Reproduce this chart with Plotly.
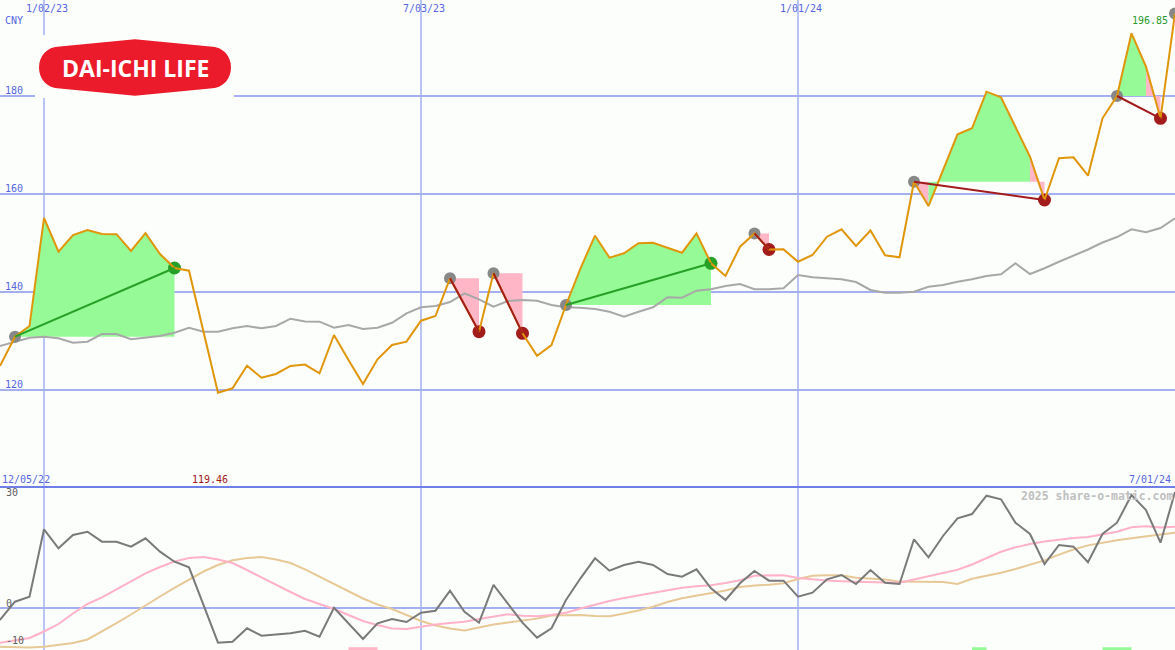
import pandas as pd
import plotly.graph_objects as go

W, H = 1175, 650

# ---------------- data ----------------
dates = pd.date_range("2022-12-05", periods=83, freq="7D")

price = [124.0, 125.10, 130.88, 133.06, 155.10, 148.22, 151.63, 152.65, 151.84, 151.80,
         148.37, 152.00, 147.76, 144.90, 144.35, 132.04, 119.46, 120.35, 124.96, 122.51,
         123.27, 124.90, 125.20, 123.41, 131.22, 126.12, 121.22, 126.27, 129.18, 129.86,
         134.14, 135.10, 142.80, 137.35, 131.90, 143.82, 137.76, 131.57, 127.00, 129.18,
         137.35, 144.84, 151.49, 147.00, 147.90, 149.94, 150.06, 149.04, 148.02, 151.98,
         145.86, 143.27, 149.24, 151.95, 148.67, 148.70, 146.18, 147.55, 151.29, 152.80,
         149.39, 152.55, 147.50, 147.08, 162.51, 157.55, 164.69, 172.18, 173.41, 180.88,
         179.73, 173.67, 167.61, 158.78, 167.29, 167.49, 163.73, 175.45, 180.00, 192.80,
         185.98, 175.45, 196.85]

ma = [128.2, 129.04, 129.86, 130.67, 130.88, 130.55, 129.65, 129.86, 131.43, 131.43,
      130.35, 130.67, 131.02, 131.69, 132.71, 131.90, 131.90, 132.59, 133.06, 132.59,
      133.06, 134.55, 133.98, 133.94, 132.71, 133.27, 132.45, 132.71, 133.73, 135.65,
      136.88, 137.14, 137.96, 139.73, 138.51, 137.00, 138.16, 138.37, 138.22, 137.35,
      136.88, 136.80, 136.53, 135.98, 134.96, 135.98, 136.88, 138.92, 138.84, 140.27,
      140.55, 141.22, 141.63, 140.55, 140.55, 140.76, 143.47, 143.00, 142.80, 142.59,
      142.04, 140.41, 139.86, 139.86, 140.06, 141.08, 141.43, 142.10, 142.59, 143.27,
      143.61, 145.86, 143.67, 144.84, 146.18, 147.35, 148.67, 150.10, 151.22, 152.80,
      152.18, 153.06, 155.04]

momentum = [-5.5, -3.14, 1.62, 2.97, 21.19, 16.05, 19.65, 20.54, 17.84, 17.84,
            16.49, 18.76, 15.14, 12.43, 10.92, 0.73, -9.46, -9.19, -5.57, -7.57,
            -7.19, -6.92, -6.22, -7.84, 0.0, -4.22, -8.46, -4.22, -3.05, -3.86,
            -1.35, -0.81, 4.59, -1.08, -4.05, 6.14, 1.19, -4.05, -8.11, -5.57,
            2.08, 7.95, 13.35, 10.0, 11.54, 12.43, 11.54, 9.11, 8.38, 10.38,
            5.24, 2.08, 6.59, 9.92, 7.30, 7.30, 2.97, 4.05, 7.68, 8.84,
            6.41, 10.19, 6.76, 6.41, 18.49, 13.62, 19.38, 24.16, 25.32, 30.27,
            29.30, 22.97, 19.92, 11.81, 16.95, 16.49, 12.27, 19.92, 22.97, 30.46,
            26.41, 17.57, 31.27]

signal_fast = [-10.1, -9.46, -9.0, -8.19, -6.43, -4.41, -1.57, 1.0, 2.81, 5.05,
               7.22, 9.30, 11.0, 12.49, 13.43, 13.70, 13.03, 12.08, 10.19, 8.16,
               6.27, 4.24, 2.35, 1.0, -0.35, -1.97, -3.59, -4.68, -5.62, -5.76,
               -5.08, -4.54, -4.14, -3.81, -3.05, -2.32, -1.78, -2.19, -2.32, -1.97,
               -1.38, -0.22, 0.86, 1.81, 2.62, 3.35, 4.11, 4.78, 5.38, 5.78,
               6.08, 6.68, 7.43, 8.65, 8.76, 8.78, 8.03, 7.62, 7.35, 7.16,
               7.0, 6.89, 6.81, 6.76, 7.62, 8.49, 9.38, 10.24, 11.68, 13.43,
               15.11, 16.32, 17.22, 17.89, 18.43, 18.84, 19.11, 19.78, 20.54, 21.76,
               22.03, 21.65, 21.89]

signal_slow = [-10.49, -10.54, -10.7, -10.76, -10.57, -10.08, -9.54, -8.59, -6.43, -4.14,
               -1.84, 0.65, 3.03, 5.38, 7.62, 9.78, 11.54, 12.84, 13.43, 13.70,
               13.03, 12.08, 10.38, 8.43, 6.51, 4.51, 2.49, 0.86, -0.35, -1.97,
               -3.59, -4.81, -5.62, -6.19, -5.32, -4.57, -4.0, -3.46, -2.95, -2.14,
               -2.0, -1.97, -2.24, -2.30, -1.57, -0.76, 0.27, 1.54, 2.54, 3.27,
               3.84, 4.65, 5.62, 6.03, 6.19, 6.59, 7.76, 8.65, 8.76, 8.76,
               8.08, 7.86, 7.62, 7.05, 7.0, 6.97, 6.95, 6.41, 7.84, 8.62,
               9.43, 10.46, 11.62, 12.78, 14.35, 15.73, 16.84, 17.62, 18.22, 18.78,
               19.35, 19.81, 20.27]

# trades: (buy index, sell index)
trades = [(2, 13), (32, 34), (35, 37), (40, 50), (53, 54), (64, 73), (78, 81)]
open_buy = [82]

# small signal bars at bottom of lower panel: (start idx, end idx, kind)
signal_bars = [(25, 27, "loss"), (68, 69, "gain"), (77, 79, "gain")]

price_ticks = [120, 140, 160, 180]
osc_ticks = [30, 0, -10]
grid_dates = ["2023-01-02", "2023-07-03", "2024-01-01"]

# ---------------- styles ----------------
BG = "#fcfefc"
GRID = "#a4b0f2"
LABEL_BLUE = "#5566e0"
ORANGE = "#e0960a"
MA_GRAY = "#a8a8a8"
GREEN_FILL = "#96fa96"
PINK_FILL = "#ffb6c6"
BUY_GRAY = "#888888"
WIN = "#26a026"
LOSS = "#a21c1c"
MONO = "DejaVu Sans Mono"

TOP_FRAC = 163 / H  # lower panel height fraction


def P(xp, yp):
    return xp / W, 1 - yp / H


fig = go.Figure()

# ---------- trade fills ----------
for b, s in trades:
    base = price[b]
    j = b
    while j < s:
        col = GREEN_FILL if price[j + 1] >= base else PINK_FILL
        k = j
        while k + 1 < s and ((price[k + 2] >= base) == (price[j + 1] >= base)):
            k += 1
        xs = [dates[j]] + list(dates[j:k + 2]) + [dates[k + 1], dates[j]]
        ys = [base] + price[j:k + 2] + [base, base]
        fig.add_trace(go.Scatter(x=xs, y=ys, mode="lines", fill="toself",
                                 fillcolor=col, line=dict(width=0, color=col),
                                 hoverinfo="skip", xaxis="x", yaxis="y"))
        j = k + 1

# ---------- moving average ----------
fig.add_trace(go.Scatter(x=dates, y=ma, mode="lines",
                         line=dict(color=MA_GRAY, width=2), xaxis="x", yaxis="y"))

# ---------- markers ----------
buy_idx = [b for b, s in trades] + open_buy
fig.add_trace(go.Scatter(x=[dates[i] for i in buy_idx], y=[price[i] for i in buy_idx],
                         mode="markers", marker=dict(color=BUY_GRAY, size=12),
                         xaxis="x", yaxis="y"))
sell_cols = [WIN if price[s] > price[b] else LOSS for b, s in trades]
fig.add_trace(go.Scatter(x=[dates[s] for b, s in trades], y=[price[s] for b, s in trades],
                         mode="markers", marker=dict(color=sell_cols, size=13),
                         xaxis="x", yaxis="y"))

# ---------- price ----------
fig.add_trace(go.Scatter(x=dates, y=price, mode="lines",
                         line=dict(color=ORANGE, width=2), xaxis="x", yaxis="y"))

# ---------- trade lines ----------
for b, s in trades:
    c = WIN if price[s] > price[b] else LOSS
    fig.add_trace(go.Scatter(x=[dates[b], dates[s]], y=[price[b], price[s]], mode="lines",
                             line=dict(color=c, width=2), xaxis="x", yaxis="y"))

# ---------- oscillator panel ----------
fig.add_trace(go.Scatter(x=dates, y=signal_slow, mode="lines",
                         line=dict(color="#e6c996", width=2), xaxis="x2", yaxis="y2"))
fig.add_trace(go.Scatter(x=dates, y=signal_fast, mode="lines",
                         line=dict(color="#ffb2c8", width=2), xaxis="x2", yaxis="y2"))
fig.add_trace(go.Scatter(x=dates, y=momentum, mode="lines",
                         line=dict(color="#7a7a7a", width=2), xaxis="x2", yaxis="y2"))

# ---------- axes ----------
x0 = dates[0] + pd.Timedelta(days=7 * 14 / 14.5)
x1 = dates[-1]
y_top = 180 + 96 / 4.9
y_bot = 180 - (H - 163 - 96) / 4.9
o_top = (607.7 - (H - 163)) / 3.7
o_bot = (607.7 - H) / 3.7

axis_common = dict(showticklabels=False, zeroline=False, showline=False, ticks="")
fig.update_layout(
    width=W, height=H, autosize=False,
    margin=dict(l=0, r=0, t=0, b=0, pad=0),
    paper_bgcolor=BG, plot_bgcolor=BG,
    showlegend=False, hovermode=False,
    xaxis=dict(domain=[0, 1], range=[x0, x1], showgrid=False, anchor="y", **axis_common),
    yaxis=dict(domain=[TOP_FRAC, 1], range=[y_bot, y_top], tickvals=price_ticks,
               showgrid=True, gridcolor=GRID, gridwidth=2, anchor="x", **axis_common),
    xaxis2=dict(domain=[0, 1], range=[x0, x1], showgrid=False, anchor="y2",
                matches="x", **axis_common),
    yaxis2=dict(domain=[0, TOP_FRAC], range=[o_bot, o_top], tickvals=[0],
                showgrid=True, gridcolor=GRID, gridwidth=2, anchor="x2", **axis_common),
)

shapes = []
for d in grid_dates:
    shapes.append(dict(type="line", xref="x", yref="paper", x0=d, x1=d, y0=0, y1=1,
                       line=dict(color=GRID, width=1.5), layer="below"))
shapes.append(dict(type="line", xref="paper", yref="paper", x0=0, x1=1,
                   y0=TOP_FRAC, y1=TOP_FRAC, line=dict(color="#6f7fe8", width=2),
                   layer="above"))
for a, b, kind in signal_bars:
    shapes.append(dict(type="rect", xref="x2", yref="y2", x0=dates[a], x1=dates[b],
                       y0=o_bot - 0.3, y1=o_bot + 0.75,
                       fillcolor=GREEN_FILL if kind == "gain" else PINK_FILL,
                       line=dict(width=0), layer="above"))

# logo
lx0, ly0 = P(35, 35)
lx1, ly1 = P(234, 98)
shapes.append(dict(type="rect", xref="paper", yref="paper", x0=lx0, x1=lx1, y0=ly1, y1=ly0,
                   fillcolor=BG, line=dict(width=0), layer="above"))


def pt(xp, yp):
    a, b = P(xp, yp)
    return f"{a:.5f},{b:.5f}"


logo_path = (f"M {pt(60,46.5)} L {pt(135,39.3)} L {pt(210,46.5)} "
             f"C {pt(238,46.5)} {pt(238,88.5)} {pt(210,88.5)} "
             f"L {pt(135,95.7)} L {pt(60,88.5)} "
             f"C {pt(32,88.5)} {pt(32,46.5)} {pt(60,46.5)} Z")
shapes.append(dict(type="path", xref="paper", yref="paper", path=logo_path,
                   fillcolor="#ec1b2b", line=dict(width=0), layer="above"))
fig.update_layout(shapes=shapes)

# ---------- text ----------
ann = []


def text(t, xp, yp, color, size=10, xanchor="left", bold=False, family=MONO):
    a, b = P(xp, yp)
    ann.append(dict(text=f"<b>{t}</b>" if bold else t, x=a, y=b, xref="paper", yref="paper",
                    xanchor=xanchor, yanchor="middle", showarrow=False,
                    font=dict(family=family, size=size, color=color), borderpad=0))


for d in grid_dates:
    dt = pd.Timestamp(d)
    ann.append(dict(text=dt.strftime("%-m/%d/%y"), x=dt + pd.Timedelta(days=1.5), xref="x",
                    y=1 - 8 / H, yref="paper", xanchor="center", yanchor="middle",
                    showarrow=False, font=dict(family=MONO, size=10, color=LABEL_BLUE)))

text("CNY", 4, 21, LABEL_BLUE)
for v in price_ticks:
    ypix = 96 + (180 - v) * 4.9
    text(str(v), 4, ypix - 5.5, LABEL_BLUE)

text(f"{price[-1]:.2f}", 1169, 21, "#2a9a2a", xanchor="right")
text(dates[0].strftime("%m/%d/%y"), 1, 479, LABEL_BLUE)
text(f"{min(price):.2f}", 210, 479, "#a01818", xanchor="center")
text(dates[-1].strftime("%-m/%d/%y"), 1172, 479, LABEL_BLUE, xanchor="right")
text("2025 share-o-matic.com", 1174, 496, "#c0c0c0", size=11.5, bold=True, xanchor="right")
for v in osc_ticks:
    ypix = 607.7 - v * 3.7
    text(str(v), 5, ypix - 4, "#606060")

text("DAI-ICHI LIFE", 135, 68, "white", size=23, xanchor="center", bold=True,
     family="Open Sans")

fig.update_layout(annotations=ann)

fig.write_html("out.html", config={"displayModeBar": False},
               post_script="document.body.style.margin='0px';document.body.style.overflow='hidden';")
